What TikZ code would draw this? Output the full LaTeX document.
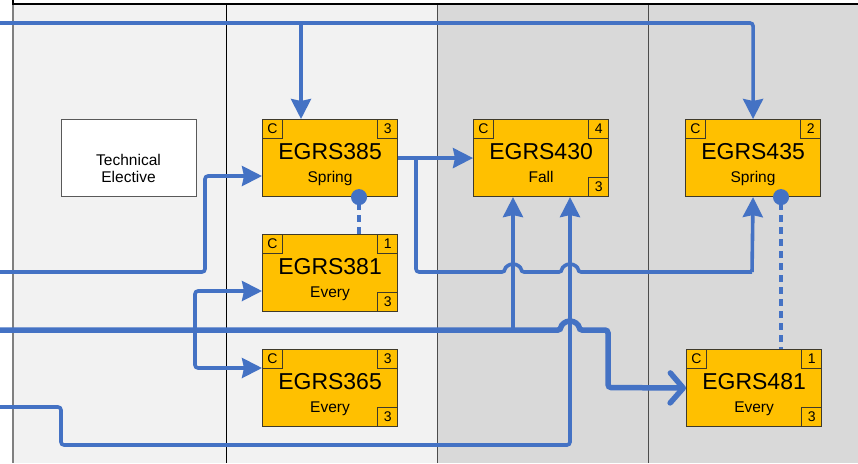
\documentclass[tikz,border=0pt]{standalone}
\usepackage{fontspec}
\setmainfont{Liberation Sans}
\usetikzlibrary{arrows.meta,calc}
\definecolor{flowblue}{HTML}{4472C4}
\definecolor{boxfill}{HTML}{FFC000}
\definecolor{boxline}{HTML}{3F3A2A}
\definecolor{laneA}{HTML}{F2F2F2}
\definecolor{laneB}{HTML}{D9D9D9}
\newcommand\coursebox[7]{%
  \node[course, anchor=north west] (#1) at (#2,#3) {};
  \node[ctitle, anchor=base] (#1-t) at ($(#1.north)+(0,40)$) {#4};
  \node[cterm, anchor=base] (#1-s) at ($(#1.north)+(0,63)$) {#5};
  \node[corner, anchor=north west] (#1-c) at (#1.north west) {C};
  \node[corner, anchor=north east] (#1-n) at (#1.north east) {#6};
  \ifx&#7&\else\node[corner, anchor=south east] (#1-b) at (#1.south east) {#7};\fi
}
\begin{document}
\begin{tikzpicture}[x=1pt,y=-1pt,
  course/.style={draw=boxline, fill=boxfill, line width=1.1pt, minimum width=135pt, minimum height=77pt, inner sep=0pt},
  ctitle/.style={font=\fontsize{23}{25}\selectfont, inner sep=0pt},
  cterm/.style={font=\fontsize{15.5}{17}\selectfont, inner sep=0pt},
  corner/.style={draw=boxline, fill=boxfill, line width=0.9pt, minimum width=20pt, minimum height=19pt, inner sep=0pt, font=\fontsize{14}{14}\selectfont},
  techbox/.style={draw=black!65, fill=white, line width=1pt, minimum width=135pt, minimum height=77pt, inner sep=0pt},
  flow/.style={draw=flowblue, line width=3.6pt, rounded corners=3pt, -{Stealth[length=20pt,width=20pt,inset=2pt]}},
  flowline/.style={draw=flowblue, line width=3.6pt, rounded corners=3pt},
  thickflow/.style={draw=flowblue, line width=5.5pt, rounded corners=3pt, -{Straight Barb[length=13pt,width=30pt,line width'=5.5pt,round]}},
  dotline/.style={draw=flowblue, line width=3.6pt, dash pattern=on 7pt off 5pt, {Circle[length=16pt,sep=-8pt]}-}
]
\useasboundingbox (0,0) rectangle (858,463);
% lanes
\fill[white] (0,0) rectangle (858,463);
\fill[laneA] (13,0) rectangle (437,463);
\fill[laneB] (437,0) rectangle (858,463);
\draw[gray, line width=1.5pt] (13,0) -- (13,463);
\draw[black, line width=1pt] (226,0) -- (226,463);
\draw[black!70, line width=1pt] (437,0) -- (437,463);
\draw[black!70, line width=1pt] (648,0) -- (648,463);
\draw[black, fill=white, line width=2pt] (13,-10) rectangle (862,3.5);
% nodes
\node[techbox, anchor=north west] (tech) at (61,119) {};
\node[align=center, font=\fontsize{15.5}{17}\selectfont, inner sep=0pt] (tech-t) at (128.5,168) {Technical\\Elective};
\coursebox{e385}{262}{119}{EGRS385}{Spring}{3}{}
\coursebox{e381}{262}{234}{EGRS381}{Every}{1}{3}
\coursebox{e365}{262}{349}{EGRS365}{Every}{3}{3}
\coursebox{e430}{473}{119}{EGRS430}{Fall}{4}{3}
\coursebox{e435}{685}{119}{EGRS435}{Spring}{2}{}
\coursebox{e481}{686}{349}{EGRS481}{Every}{1}{3}
% connectors
\coordinate (pA) at (0,23);
\coordinate (jA) at (301,23);
\draw[flow] (pA) -| (e435.north);
\draw[flow] (jA) -- (jA |- e385.north);
\coordinate (pB) at (0,272);
\draw[flow] (pB) -| (205,176) -- (e385.west |- 205,176);
\draw[flow] (e385.east) -- (e430.west);
\coordinate (jC) at (416,157.5);
\draw[flowline] (jC) -- (416,272) -- (505,272) arc[start angle=180,end angle=360,radius=8] -- (562,272) arc[start angle=180,end angle=360,radius=8] -- (752,272);
\draw[flow] (752,272) -- (e435.south);
\coordinate (pE) at (0,330);
\draw[thickflow] (pE) -- (561,330) arc[start angle=180,end angle=360,radius=9] -- (608,330) -- (608,387.5) -- (e481.west);
\coordinate (jE1) at (513,330);
\draw[flow] (jE1) -- (jE1 |- e430.south);
\coordinate (jE2) at (195,330);
\draw[flow] (jE2) |- (e381.west |- 0,291);
\draw[flow] (jE2) |- (e365.west |- 0,368);
\coordinate (pF) at (0,407);
\draw[flow] (pF) -- (61,407) -- (61,445) -- (570,445) -- (570,0 |- e430.south);
\draw[dotline] (359,0 |- e385.south) -- (359,0 |- e381.north);
\draw[dotline] (781,0 |- e435.south) -- (781,0 |- e481.north);
\end{tikzpicture}
\end{document}
